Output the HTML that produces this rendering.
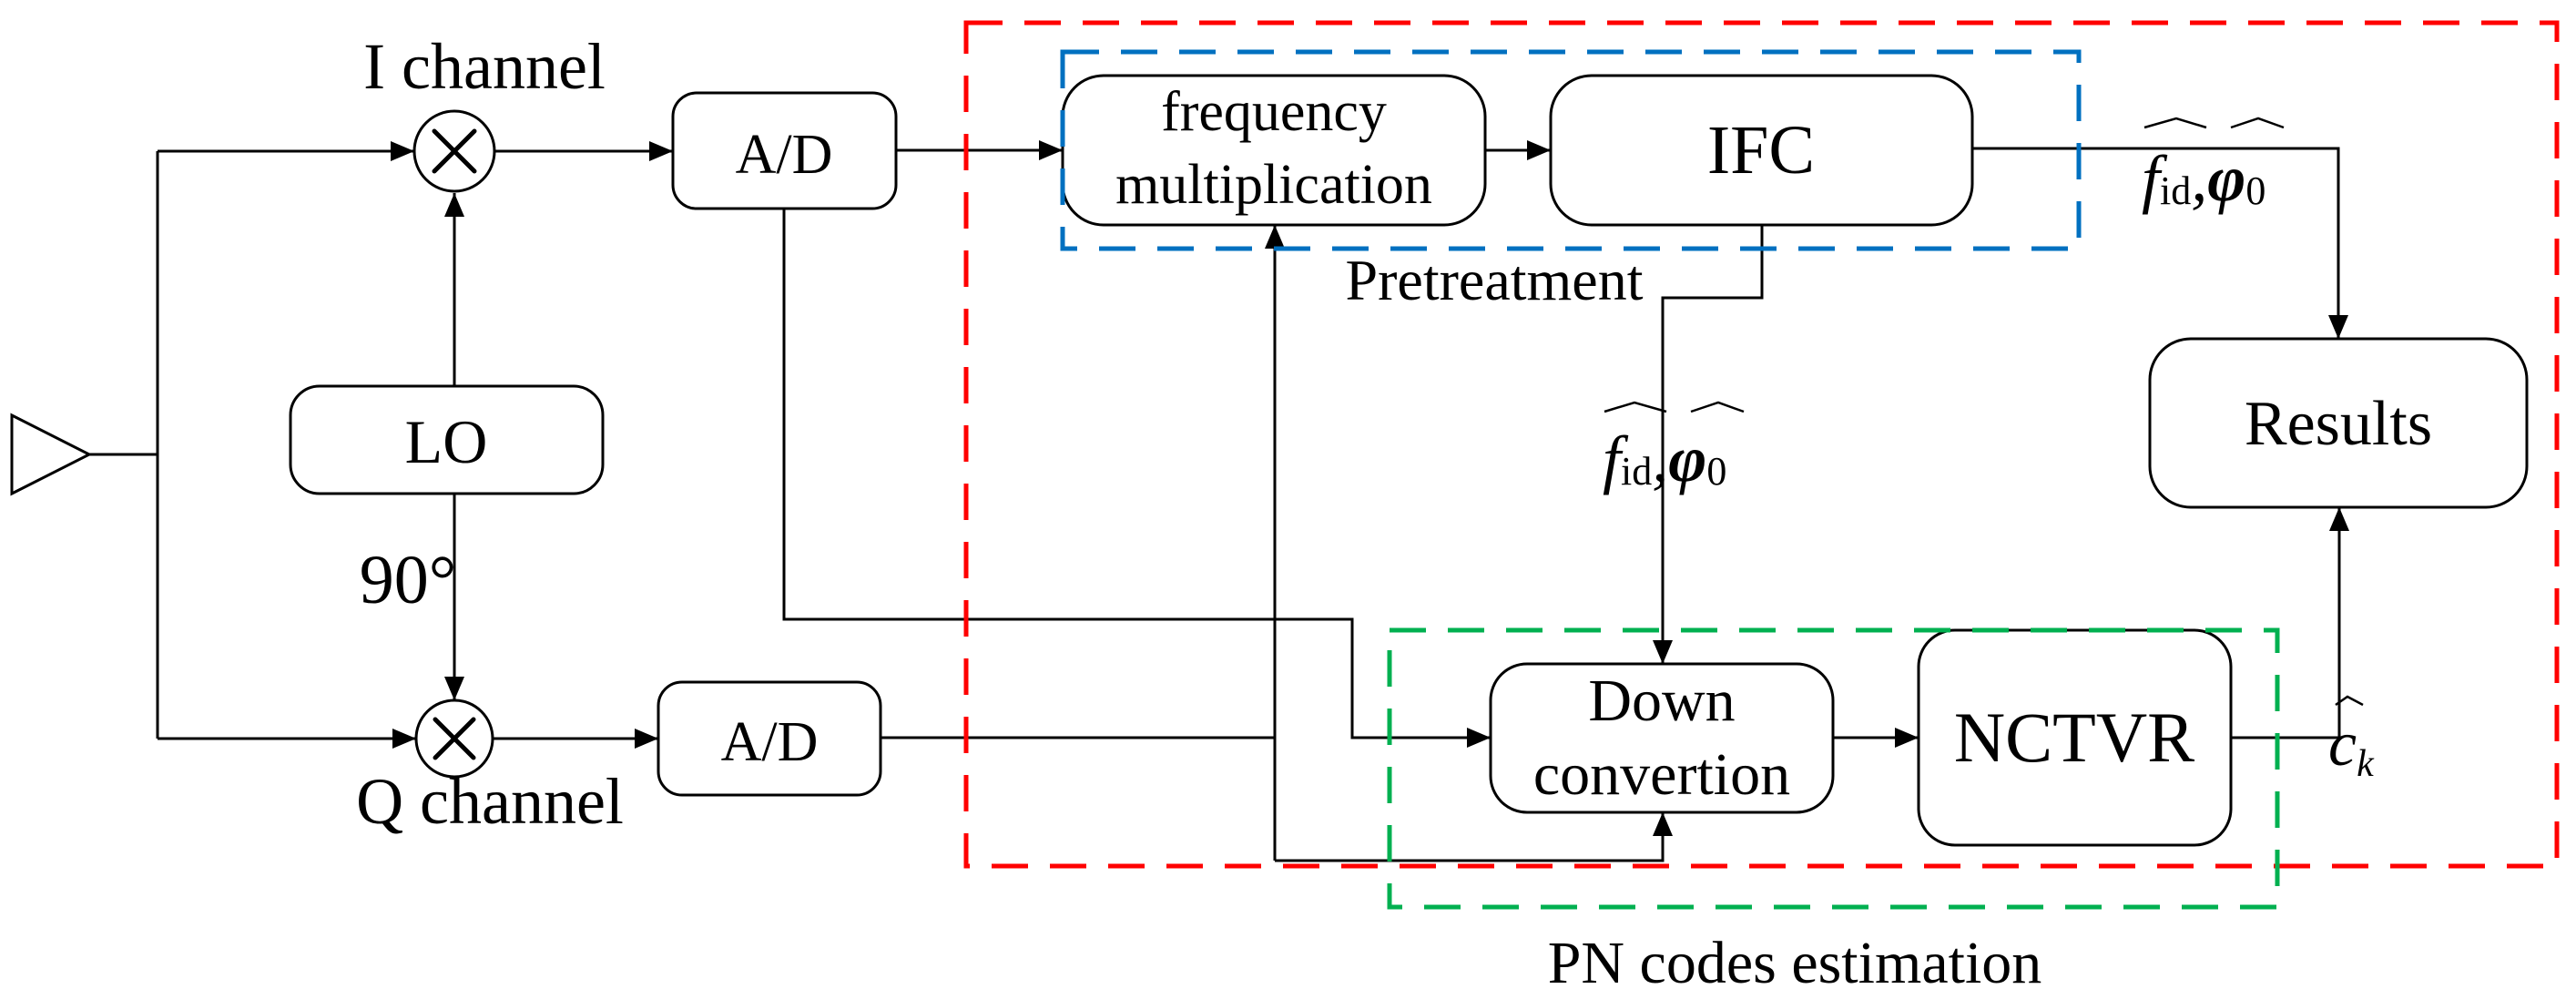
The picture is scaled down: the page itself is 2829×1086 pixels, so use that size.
<!DOCTYPE html>
<html><head><meta charset="utf-8"><style>
html,body{margin:0;padding:0;background:#fff;}
svg{display:block;}
text{font-family:"Liberation Serif",serif;fill:#000;}
</style></head><body>
<svg width="2829" height="1086" viewBox="0 0 2829 1086" xmlns="http://www.w3.org/2000/svg">
<defs>
<marker id="a" markerWidth="26" markerHeight="22" refX="26" refY="11" orient="auto" markerUnits="userSpaceOnUse">
<path d="M0,0 L26,11 L0,22 Z" fill="#000"/>
</marker>
</defs>
<g fill="none" stroke="#000" stroke-width="3">
<!-- antenna -->
<path d="M13,456 L98,499 L13,542 Z"/>
<path d="M98,499 H173"/>
<path d="M173,166 V811"/>
<path d="M173,166 H455" marker-end="url(#a)"/>
<path d="M173,811 H457" marker-end="url(#a)"/>
<!-- mixers -->
<circle cx="499" cy="166" r="44"/>
<circle cx="499" cy="811" r="42"/>
<!-- LO -->
<rect x="319" y="424" width="343" height="118" rx="32"/>
<path d="M499,424 V212" marker-end="url(#a)"/>
<path d="M499,542 V769" marker-end="url(#a)"/>
<!-- A/D -->
<rect x="739" y="102" width="245" height="127" rx="26"/>
<rect x="723" y="749" width="244" height="124" rx="26"/>
<path d="M543,166 H739" marker-end="url(#a)"/>
<path d="M541,811 H723" marker-end="url(#a)"/>
<path d="M984,165 H1167" marker-end="url(#a)"/>
<path d="M861,229 V680 H1485 V810 H1637" marker-end="url(#a)"/>
<path d="M967,810 H1400"/>
<path d="M1400,945 V247" marker-end="url(#a)"/>
<path d="M1400,945 H1826 V892" marker-end="url(#a)"/>
<!-- boxes -->
<rect x="1167" y="83" width="464" height="164" rx="45"/>
<rect x="1703" y="83" width="463" height="164" rx="45"/>
<rect x="2361" y="372" width="414" height="185" rx="45"/>
<rect x="1637" y="729" width="376" height="163" rx="40"/>
<rect x="2107" y="692" width="343" height="236" rx="40"/>
<path d="M1631,165 H1703" marker-end="url(#a)"/>
<path d="M2166,163 H2568 V372" marker-end="url(#a)"/>
<path d="M1935,247 V327 H1826 V729" marker-end="url(#a)"/>
<path d="M2013,810 H2107" marker-end="url(#a)"/>
<path d="M2450,810 H2569 V557" marker-end="url(#a)"/>
<!-- hats -->
<path d="M2355,140 L2390,130 L2423,140 M2450,140 L2480,130 L2508,140" stroke-width="2.5"/>
<path d="M1762,452 L1795,442 L1830,452 M1857,452 L1887,442 L1915,452" stroke-width="2.5"/>
<path d="M2565,774 L2578,765 L2595,774" stroke-width="2.5"/>
</g>
<g stroke="#000" stroke-width="5" stroke-linecap="round">
<path d="M477,144 L521,188 M521,144 L477,188"/>
<path d="M478,790 L520,832 M520,790 L478,832"/>
</g>
<!-- dashed -->
<rect x="1061" y="25" width="1747" height="926" fill="none" stroke="#ff0000" stroke-width="5" stroke-dasharray="40 24"/>
<rect x="1167" y="57" width="1116" height="216" fill="none" stroke="#0070c0" stroke-width="5" stroke-dasharray="40 24"/>
<rect x="1526" y="692" width="975" height="304" fill="none" stroke="#00b050" stroke-width="5" stroke-dasharray="40 24"/>
<!-- text -->
<text x="532" y="97" font-size="72" text-anchor="middle">I channel</text>
<text x="538" y="904" font-size="72" text-anchor="middle">Q channel</text>
<text x="448" y="662" font-size="76" text-anchor="middle">90°</text>
<text x="490" y="508" font-size="68" text-anchor="middle">LO</text>
<text x="861" y="190" font-size="62" text-anchor="middle">A/D</text>
<text x="845" y="835" font-size="62" text-anchor="middle">A/D</text>
<text x="1399" y="143" font-size="62" text-anchor="middle">frequency</text>
<text x="1399" y="223" font-size="62" text-anchor="middle">multiplication</text>
<text x="1934" y="190" font-size="76" text-anchor="middle">IFC</text>
<text x="1641" y="329" font-size="64" text-anchor="middle">Pretreatment</text>
<text x="2568" y="488" font-size="70" text-anchor="middle">Results</text>
<text x="1825" y="791" font-size="66" text-anchor="middle">Down</text>
<text x="1825" y="872" font-size="66" text-anchor="middle">convertion</text>
<text x="2278" y="836" font-size="78" text-anchor="middle">NCTVR</text>
<text x="1971" y="1079" font-size="66" text-anchor="middle">PN codes estimation</text>
<text x="2352" y="220" font-size="72" font-style="italic">f<tspan font-size="44" font-style="normal" dy="4">id</tspan><tspan dy="-4" font-size="72">,</tspan><tspan font-weight="bold" font-style="italic" font-size="72">φ</tspan><tspan font-size="44" font-style="normal" dy="4">0</tspan></text>
<text x="1760" y="528" font-size="72" font-style="italic">f<tspan font-size="44" font-style="normal" dy="4">id</tspan><tspan dy="-4" font-size="72">,</tspan><tspan font-weight="bold" font-style="italic" font-size="72">φ</tspan><tspan font-size="44" font-style="normal" dy="4">0</tspan></text>
<text x="2557" y="840" font-size="70" font-style="italic">c<tspan font-size="42" dy="12">k</tspan></text>
</svg>
</body></html>
